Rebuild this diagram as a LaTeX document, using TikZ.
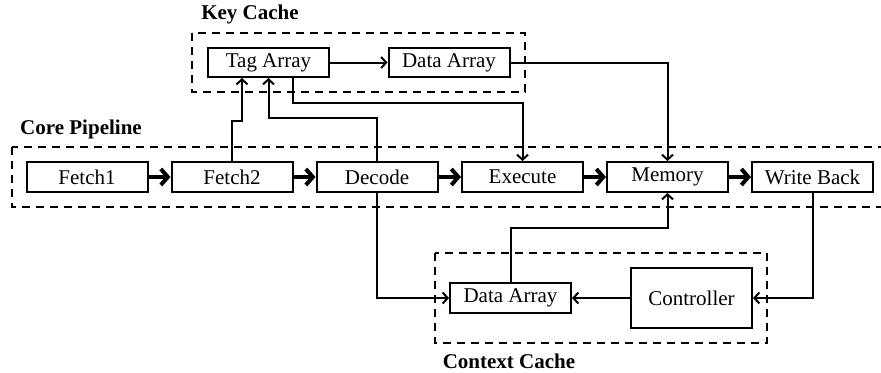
\documentclass[tikz,border=0pt]{standalone}
\usepackage{fontspec}
\setmainfont{LiberationSerif}[Extension=.ttf,UprightFont=*-Regular,BoldFont=*-Bold,ItalicFont=*-Italic,BoldItalicFont=*-BoldItalic]
\usetikzlibrary{arrows.meta,calc}

\begin{document}
\begin{tikzpicture}[x=0.5pt,y=-0.5pt,
  block/.style={draw,line width=1pt,minimum width=60.5pt,minimum height=15pt,
    inner sep=0pt,font=\fontsize{10.5}{12}\selectfont},
  group/.style={draw,line width=1pt,dash pattern=on 4pt off 3pt},
  grouplabel/.style={font=\fontsize{10.5}{12}\selectfont\bfseries,inner sep=0pt},
  link/.style={line width=1pt,-{Straight Barb[length=2.5pt,width=5.5pt,line width=1pt]}},
  flow/.style={line width=2.2pt,-{Straight Barb[length=3.5pt,width=8pt,line width=2pt]}}]
  \useasboundingbox (0,0) rectangle (881,372);

  % group outlines
  \draw[group] (192,33) rectangle (525,92);
  \draw[group] (12,147) rectangle (886,207);
  \draw[group] (435,253) rectangle (767,343);

  \node[grouplabel] (lkey) at (250,14) {Key Cache};
  \node[grouplabel] (lcore) at (81,129) {Core Pipeline};
  \node[grouplabel] (lctx) at (509,361) {Context Cache};

  % key cache
  \node[block,minimum height=14.5pt] (tag) at (268.5,62.5) {Tag Array};
  \node[block,minimum height=14.5pt] (kdata) at (449,62.5) {Data Array};

  % pipeline stages
  \node[block] (f1) at (87,177) {Fetch1};
  \node[block] (f2) at (232,177) {Fetch2};
  \node[block] (dec) at (377,177) {Decode};
  \node[block] (exe) at (522.5,177) {Execute};
  \node[block] (mem) at (667.5,177) {Memory};
  \node[block] (wb) at (812.5,177) {Write Back};

  % context cache
  \node[block] (cdata) at (510.5,298) {Data Array};
  \node[block,minimum height=30pt] (ctrl) at (691.5,298) {Controller};

  % pipeline flow
  \draw[flow] (f1) -- (f2);
  \draw[flow] (f2) -- (dec);
  \draw[flow] (dec) -- (exe);
  \draw[flow] (exe) -- (mem);
  \draw[flow] (mem) -- (wb);

  % key cache paths
  \draw[link] (tag) -- (kdata);
  \draw[link] (kdata.east) -| (mem.north);
  \draw[link] ($(tag.south)+(24.5,0)$) -- ++(0,25) -| (exe.north);
  \draw[link] (f2.north) -- ++(0,-40) -| ($(tag.south)+(-26.5,0)$);
  \draw[link] (dec.north) -- ++(0,-43) -| (tag.south);

  % context cache paths
  \draw[link] (dec.south) |- (cdata.west);
  \draw[link] (cdata.north) -- ++(0,-54) -| (mem.south);
  \draw[link] (wb.south) |- (ctrl.east);
  \draw[link] (ctrl.west) -- (cdata.east);
\end{tikzpicture}
\end{document}
